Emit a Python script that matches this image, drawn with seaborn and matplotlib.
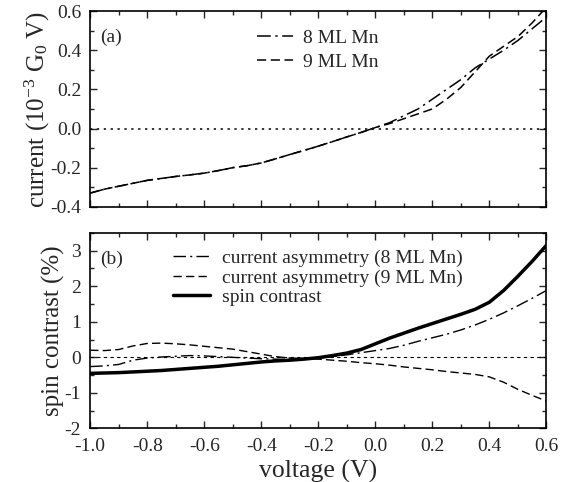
import numpy as np
import pandas as pd
import seaborn as sns
import matplotlib.pyplot as plt
from matplotlib.ticker import MultipleLocator

# voltage grid (V)
voltage = [-1.0, -0.95, -0.9, -0.85, -0.8, -0.75, -0.7, -0.65, -0.6, -0.55, -0.5,
           -0.45, -0.4, -0.35, -0.3, -0.25, -0.2, -0.15, -0.1, -0.05, 0.0,
           0.05, 0.1, 0.15, 0.2, 0.25, 0.3, 0.35, 0.4, 0.45, 0.5, 0.55, 0.6]

# (a) current, 10^-3 G0 V
current_8ml = [-0.33, -0.31, -0.295, -0.28, -0.265, -0.255, -0.245, -0.237, -0.228, -0.215, -0.20,
               -0.19, -0.176, -0.155, -0.133, -0.112, -0.09, -0.067, -0.043, -0.02, 0.005,
               0.03, 0.065, 0.10, 0.15, 0.20, 0.25, 0.31, 0.355, 0.40, 0.45, 0.51, 0.57]
current_9ml = [-0.33, -0.31, -0.295, -0.28, -0.265, -0.255, -0.245, -0.237, -0.228, -0.215, -0.20,
               -0.19, -0.176, -0.155, -0.133, -0.112, -0.09, -0.067, -0.043, -0.02, 0.005,
               0.025, 0.05, 0.075, 0.10, 0.15, 0.21, 0.29, 0.37, 0.42, 0.47, 0.54, 0.62]

# (b) spin contrast / current asymmetry, %
asym_8ml = [-0.26, -0.24, -0.20, -0.08, -0.02, 0.01, 0.03, 0.05, 0.04, 0.02, 0.0,
            -0.02, -0.04, -0.05, -0.06, -0.05, -0.02, 0.02, 0.07, 0.13, 0.19,
            0.25, 0.34, 0.45, 0.55, 0.65, 0.77, 0.91, 1.07, 1.25, 1.45, 1.66, 1.88]
asym_9ml = [0.20, 0.19, 0.22, 0.32, 0.39, 0.40, 0.38, 0.35, 0.31, 0.27, 0.23,
            0.16, 0.09, 0.02, -0.02, -0.03, -0.05, -0.08, -0.11, -0.15, -0.18,
            -0.22, -0.27, -0.31, -0.35, -0.40, -0.44, -0.48, -0.55, -0.70, -0.90, -1.07, -1.23]
spin_contrast = [-0.45, -0.44, -0.43, -0.41, -0.39, -0.37, -0.34, -0.31, -0.28, -0.25, -0.21,
                 -0.17, -0.13, -0.10, -0.08, -0.05, -0.01, 0.05, 0.12, 0.22, 0.38,
                 0.54, 0.68, 0.82, 0.95, 1.08, 1.21, 1.35, 1.55, 1.88, 2.28, 2.70, 3.15]

sns.set_style('ticks')
plt.rcParams['font.family'] = ['Liberation Serif', 'DejaVu Serif']
plt.rcParams['mathtext.default'] = 'regular'

dashdot = (0, (9, 3, 1.5, 3))
dashed = (0, (6, 3))

fig = plt.figure(figsize=(5.71, 4.82), dpi=100)
ax1 = fig.add_axes([0.158, 0.571, 0.799, 0.406])
ax2 = fig.add_axes([0.158, 0.111, 0.799, 0.406])

sns.lineplot(x=voltage, y=current_8ml, ax=ax1, color='k', lw=1.1, linestyle=dashdot, label='8 ML Mn')
sns.lineplot(x=voltage, y=current_9ml, ax=ax1, color='k', lw=1.1, linestyle=dashed, label='9 ML Mn')
ax1.axhline(0, color='k', lw=1.1, linestyle=(0, (1.5, 3)))

sns.lineplot(x=voltage, y=asym_8ml, ax=ax2, color='k', lw=1.0, linestyle=dashdot,
             label='current asymmetry (8 ML Mn)')
sns.lineplot(x=voltage, y=asym_9ml, ax=ax2, color='k', lw=1.0, linestyle=dashed,
             label='current asymmetry (9 ML Mn)')
sns.lineplot(x=voltage, y=spin_contrast, ax=ax2, color='k', lw=2.5, linestyle='-',
             label='spin contrast')
ax2.axhline(0, color='k', lw=0.8, linestyle=(0, (3, 3)))

ax1.set_xlim(-1.0, 0.6)
ax1.set_ylim(-0.4, 0.6)
ax2.set_xlim(-1.0, 0.6)
ax2.set_ylim(-2, 3.5)

for ax in (ax1, ax2):
    ax.xaxis.set_major_locator(MultipleLocator(0.2))
    ax.xaxis.set_minor_locator(MultipleLocator(0.1))
    ax.tick_params(which='both', direction='in', top=True, right=True, width=1.0,
                   labelsize=14, pad=6.5)
    ax.tick_params(which='major', length=5)
    ax.tick_params(which='minor', length=3)
    for s in ax.spines.values():
        s.set_linewidth(1.2)
        s.set_color('k')

ax1.yaxis.set_minor_locator(MultipleLocator(0.1))
ax1.set_yticks([-0.4, -0.2, 0.0, 0.2, 0.4, 0.6])
ax1.set_yticklabels(['-0.4', '-0.2', '0.0', '0.2', '0.4', '0.6'])
ax1.tick_params(labelbottom=False)
ax1.set_xlabel('')
ax1.set_ylabel('current (10$^{-3}$ G$_0$ V)', fontsize=18)
ax1.yaxis.set_label_coords(-0.083, 0.5)

ax2.yaxis.set_minor_locator(MultipleLocator(0.5))
ax2.set_yticks([-2, -1, 0, 1, 2, 3])
ax2.set_yticklabels(['-2', '-1', '0', '1', '2', '3'])
ax2.set_xticks([-1.0, -0.8, -0.6, -0.4, -0.2, 0.0, 0.2, 0.4, 0.6])
ax2.set_xticklabels(['-1.0', '-0.8', '-0.6', '-0.4', '-0.2', '0.0', '0.2', '0.4', '0.6'])
ax2.set_xlabel('voltage (V)', fontsize=18.5)
ax2.xaxis.set_label_coords(0.5, -0.16)
ax2.set_ylabel('spin contrast (%)', fontsize=18)
ax2.yaxis.set_label_coords(-0.055, 0.5)

ax1.text(0.022, 0.865, '(a)', transform=ax1.transAxes, fontsize=14, va='center')
ax2.text(0.022, 0.865, '(b)', transform=ax2.transAxes, fontsize=14, va='center')

ax1.legend(loc='upper left', bbox_to_anchor=(0.366, 0.908), frameon=False, fontsize=14,
           borderpad=0, borderaxespad=0, handlelength=1.85, handletextpad=0.5, labelspacing=0.32)
ax2.legend(loc='upper left', bbox_to_anchor=(0.182, 0.915), frameon=False, fontsize=14,
           borderpad=0, borderaxespad=0, handlelength=1.9, handletextpad=0.6, labelspacing=0.1)

fig.savefig('out.png', dpi=100)
